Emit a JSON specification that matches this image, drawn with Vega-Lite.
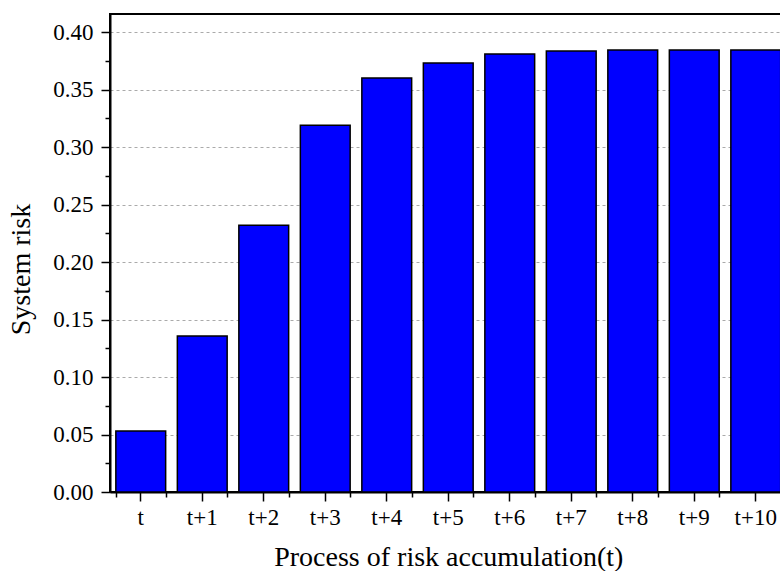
{
  "$schema": "https://vega.github.io/schema/vega-lite/v6.json",
  "autosize": {"type": "none"},
  "padding": {"left": 110, "top": 14, "right": 0, "bottom": 79},
  "width": 676.5,
  "height": 478,
  "data": {
    "values": [
      {"step": "t", "risk": 0.053},
      {"step": "t+1", "risk": 0.1357},
      {"step": "t+2", "risk": 0.232},
      {"step": "t+3", "risk": 0.319},
      {"step": "t+4", "risk": 0.360},
      {"step": "t+5", "risk": 0.373},
      {"step": "t+6", "risk": 0.381},
      {"step": "t+7", "risk": 0.3835},
      {"step": "t+8", "risk": 0.3843},
      {"step": "t+9", "risk": 0.3843},
      {"step": "t+10", "risk": 0.3843}
    ]
  },
  "layer": [
    {
      "mark": {"type": "bar", "fill": "#0000FF", "stroke": "#000000", "strokeWidth": 1.5},
      "encoding": {
        "x": {
          "field": "step", "type": "nominal", "sort": null,
          "scale": {"paddingInner": 0.19, "paddingOuter": 0.095},
          "axis": {
            "title": "Process of risk accumulation(t)",
            "labelAngle": 0, "tickSize": 9, "labelPadding": 5, "titlePadding": 14
          }
        },
        "y": {
          "field": "risk", "type": "quantitative",
          "scale": {"domain": [0, 0.4157], "nice": false, "zero": true},
          "axis": {
            "title": "System risk",
            "values": [0, 0.05, 0.1, 0.15, 0.2, 0.25, 0.3, 0.35, 0.4],
            "format": ".2f", "tickSize": 9, "labelPadding": 8, "titlePadding": 17,
            "titleY": 255,
            "grid": true
          }
        }
      }
    },
    {
      "mark": {"type": "bar", "opacity": 0},
      "encoding": {
        "x": {
          "field": "step", "type": "nominal", "sort": null,
          "axis": {
            "title": null, "labels": false, "tickBand": "extent", "tickSize": 5,
            "domain": false, "grid": false, "orient": "bottom"
          }
        },
        "y": {
          "field": "risk", "type": "quantitative",
          "axis": {
            "title": null, "labels": false, "tickSize": 5, "domain": false, "grid": false,
            "orient": "left",
            "values": [0.025, 0.075, 0.125, 0.175, 0.225, 0.275, 0.325, 0.375]
          }
        }
      }
    }
  ],
  "resolve": {"axis": {"x": "independent", "y": "independent"}},
  "config": {
    "view": {"stroke": "#000000", "strokeWidth": 2},
    "axis": {
      "domainColor": "#000000", "domainWidth": 2,
      "tickColor": "#000000", "tickWidth": 1.5,
      "labelFont": "Liberation Serif", "labelFontSize": 23, "labelColor": "#000000",
      "titleFont": "Liberation Serif", "titleFontSize": 28, "titleFontWeight": "normal", "titleColor": "#000000",
      "gridColor": "#aaaaaa", "gridDash": [3, 3], "gridWidth": 1
    }
  }
}
